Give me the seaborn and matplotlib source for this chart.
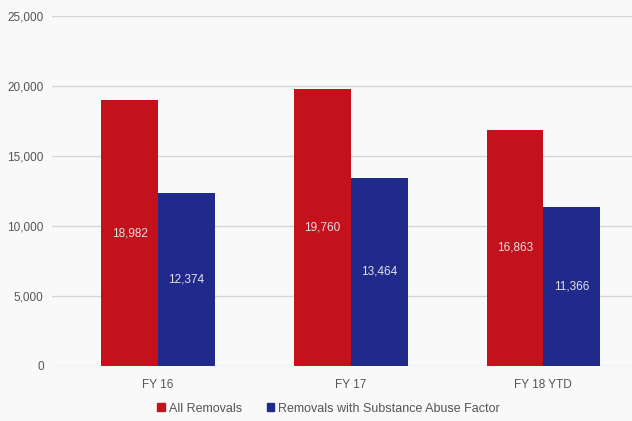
import pandas as pd
import seaborn as sns
import matplotlib.pyplot as plt

# data
years = ['FY 16', 'FY 17', 'FY 18 YTD']
all_removals = [18982, 19760, 16863]
substance_removals = [12374, 13464, 11366]
series_names = ['All Removals', 'Removals with Substance Abuse Factor']

df = pd.DataFrame({
    'year': years * 2,
    'series': [series_names[0]] * 3 + [series_names[1]] * 3,
    'count': all_removals + substance_removals,
})

sns.set_theme(style='white')
plt.rcParams['font.family'] = ['Liberation Sans', 'DejaVu Sans']

fig = plt.figure(figsize=(6.32, 4.21), dpi=100)
fig.patch.set_facecolor('#f9f9f9')
ax = fig.add_axes([52 / 632, 55 / 421, 580 / 632, 350 / 421])
ax.set_facecolor('#f9f9f9')

palette = {series_names[0]: '#c3121c', series_names[1]: '#1f2a8a'}
sns.barplot(data=df, x='year', y='count', hue='series', palette=palette,
            width=0.59, saturation=1, linewidth=0, ax=ax, legend=False)

# value labels inside the bars
for cont in ax.containers:
    ax.bar_label(cont, labels=[f'{v:,.0f}' for v in cont.datavalues],
                 label_type='center', color='#e6e0e6', fontsize=8.5)

ax.set_ylim(0, 25000)
ax.set_xlim(-0.55, 2.46)
ax.set_yticks(range(0, 25001, 5000))
ax.set_yticklabels([f'{v:,}' for v in range(0, 25001, 5000)])
ax.yaxis.grid(True, color='#d6d6d6', linewidth=1)
ax.set_axisbelow(True)
for s in ax.spines.values():
    s.set_visible(False)
ax.tick_params(axis='y', length=0, labelsize=8.5, labelcolor='#555555', pad=6)
ax.tick_params(axis='x', length=0, labelsize=8.5, labelcolor='#555555', pad=9)
ax.set_xlabel('')
ax.set_ylabel('')

handles = [plt.Rectangle((0, 0), 1, 1, color=palette[n]) for n in series_names]
fig.legend(handles, series_names, loc='lower center', bbox_to_anchor=(0.52, -0.012),
           ncol=2, frameon=False, fontsize=9, labelcolor='#555555',
           handlelength=0.6, handleheight=0.6, handletextpad=0.3, columnspacing=2.0)

fig.savefig('out.png', dpi=100, facecolor=fig.get_facecolor())
